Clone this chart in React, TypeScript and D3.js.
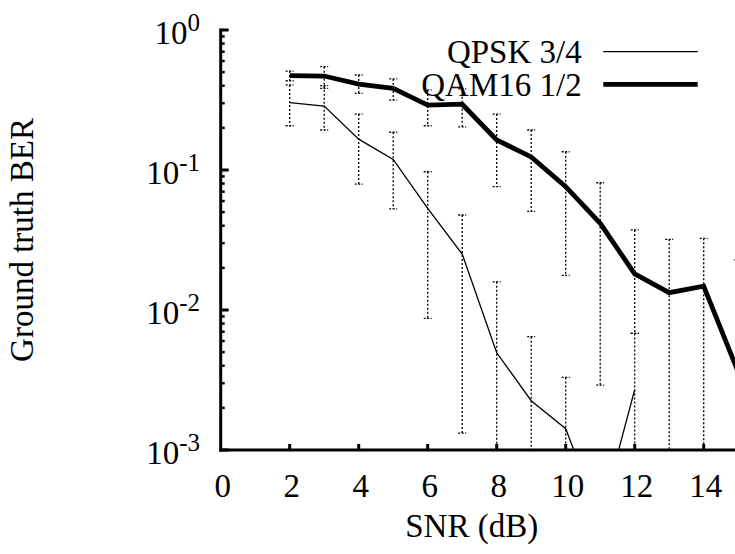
import React from "react";
import * as d3 from "d3";

const snrQam = [2, 3, 4, 5, 6, 7, 8, 9, 10, 11, 12, 13, 14, 15];
const berQam = [0.472, 0.469, 0.411, 0.383, 0.291, 0.295, 0.164, 0.124, 0.076, 0.0416, 0.0181, 0.0133, 0.0148, 0.0036];
const hiQam = [0.509, 0.547, 0.477, 0.447, 0.373, 0.38, 0.251, 0.193, 0.135, 0.0811, 0.0373, 0.032, 0.0325, 0.0228];
const loQam = [0.434, 0.383, 0.353, 0.316, 0.207, 0.203, 0.0761, 0.0506, 0.0177, 0.00291, 0.0068, 0, 0, 0];

const snrQpsk = [2, 3, 4, 5, 6, 7, 8, 9, 10, 11, 12];
const berQpsk = [0.303, 0.286, 0.166, 0.119, 0.0532, 0.0251, 0.00495, 0.00225, 0.00142, 0.00032, 0.0027];
const hiQpsk = [0.405, 0.4, 0.251, 0.186, 0.0972, 0.0477, 0.0159, 0.00645, 0.0033, 0.0008, 0.0068];
const loQpsk = [0.207, 0.193, 0.0794, 0.0527, 0.0087, 0.00132, 0, 0, 0, 0, 0];

const xTicks = [0, 2, 4, 6, 8, 10, 12, 14];
const yTickExp = [0, -1, -2, -3];

const W = 735;
const H = 554;
const left = 220.7;
const top = 30;
const bottom = 450;
const right = 772.7;

const FONT = "Liberation Serif, Times New Roman, Times, serif";
const TS = { fontFamily: FONT };

export default function App() {
  const x = d3.scaleLinear().domain([0, 16]).range([left, right]);
  const y = d3.scaleLog().domain([1e-3, 1]).range([bottom, top]);
  const yv = (v: number) => (v > 0 ? Math.min(bottom, Math.max(top, y(v))) : bottom);

  const line = d3
    .line<[number, number]>()
    .x((d) => x(d[0]))
    .y((d) => y(d[1]));

  const qamPts: [number, number][] = snrQam.map((s, i) => [s, berQam[i]]);
  const qpskPts: [number, number][] = snrQpsk.map((s, i) => [s, berQpsk[i]]);

  const minorTicks: number[] = [];
  for (let e = -3; e < 0; e++) {
    for (let m = 2; m <= 9; m++) minorTicks.push(m * Math.pow(10, e));
  }

  const errBars = (xs: number[], his: number[], los: number[], key: string) =>
    xs.map((s, i) => {
      const hi = his[i];
      const lo = los[i];
      if (hi < 1e-3) return null;
      const cx = x(s);
      const y1 = yv(hi);
      const y2 = yv(lo);
      const capHi = hi <= 1;
      const capLo = lo >= 1e-3;
      return (
        <g key={key + i} stroke="#000" strokeWidth={1.3} strokeDasharray="2,2" fill="none">
          <line x1={cx} x2={cx} y1={y1} y2={y2} />
          {capHi && <line x1={cx - 4} x2={cx + 4} y1={y1} y2={y1} strokeDasharray="2,1.5" />}
          {capLo && <line x1={cx - 4} x2={cx + 4} y1={y2} y2={y2} strokeDasharray="2,1.5" />}
        </g>
      );
    });

  return (
    <svg
      width={W}
      height={H}
      style={{ position: "absolute", left: 0, top: 0, background: "#fff", fontFamily: FONT }}
    >
      <defs>
        <clipPath id="plotClip">
          <rect x={left} y={top - 5} width={right - left + 50} height={bottom - top + 5} />
        </clipPath>
      </defs>
      <rect x={0} y={0} width={W} height={H} fill="#fff" />

      {errBars(snrQam, hiQam, loQam, "qam")}
      {errBars(snrQpsk, hiQpsk, loQpsk, "qpsk")}

      <g clipPath="url(#plotClip)">
        <path d={line(qpskPts) || ""} fill="none" stroke="#000" strokeWidth={1.3} strokeLinejoin="miter" />
        <path d={line(qamPts) || ""} fill="none" stroke="#000" strokeWidth={4.8} strokeLinejoin="miter" />
      </g>

      <line x1={left} x2={left} y1={top - 1.5} y2={bottom + 1.5} stroke="#000" strokeWidth={3} />
      <line x1={left - 1.5} x2={W + 10} y1={bottom} y2={bottom} stroke="#000" strokeWidth={3} />

      {yTickExp.map((e) => {
        const ty = y(Math.pow(10, e));
        return (
          <g key={"yt" + e}>
            <line x1={left} x2={left + 8} y1={ty} y2={ty} stroke="#000" strokeWidth={3} />
            <text x={200} y={ty + 14} textAnchor="end" fontSize={33} fill="#000" style={TS}>
              10
              <tspan fontSize={25} dy={-13}>
                {e === 0 ? "0" : "-" + Math.abs(e)}
              </tspan>
            </text>
          </g>
        );
      })}
      {minorTicks.map((v, i) => (
        <line key={"ym" + i} x1={left} x2={left + 4} y1={y(v)} y2={y(v)} stroke="#000" strokeWidth={2.5} />
      ))}

      {xTicks.map((t) => (
        <g key={"xt" + t}>
          {t > 0 && <line x1={x(t)} x2={x(t)} y1={bottom} y2={bottom - 6} stroke="#000" strokeWidth={3} />}
          <text x={x(t) + 2} y={497} textAnchor="middle" fontSize={33} fill="#000" style={TS}>
            {t}
          </text>
        </g>
      ))}

      <text x={471.7} y={537} textAnchor="middle" fontSize={33} fill="#000" style={TS}>
        SNR (dB)
      </text>
      <text transform="translate(33,240) rotate(-90)" textAnchor="middle" fontSize={33} fill="#000" style={TS}>
        Ground truth BER
      </text>

      <text x={581.7} y={63} textAnchor="end" fontSize={33} fill="#000" style={TS}>
        QPSK 3/4
      </text>
      <line x1={603.3} x2={697.7} y1={51.7} y2={51.7} stroke="#000" strokeWidth={1.3} />
      <text x={581.7} y={96} textAnchor="end" fontSize={33} fill="#000" style={TS}>
        QAM16 1/2
      </text>
      <line x1={603.3} x2={697.7} y1={84.3} y2={84.3} stroke="#000" strokeWidth={4.8} />
    </svg>
  );
}
